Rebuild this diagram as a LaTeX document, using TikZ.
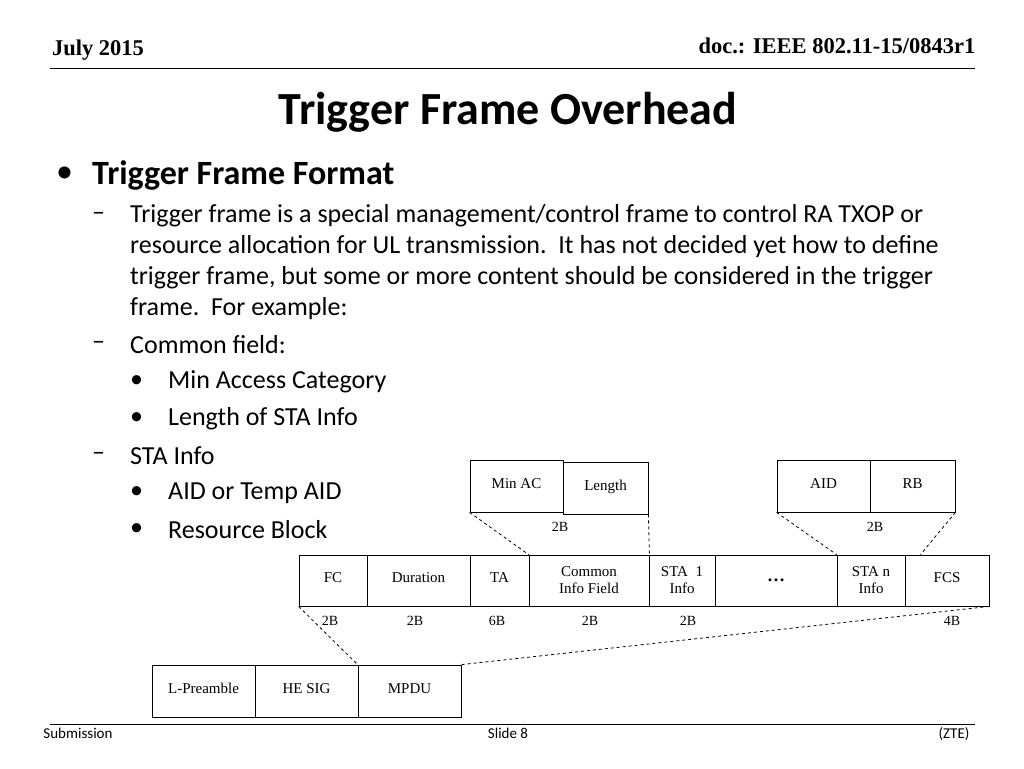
\documentclass[tikz,border=0pt]{standalone}
\usepackage{fontspec}
\setmainfont{Carlito}
\newfontfamily\timesfont{Liberation Serif}
\begin{document}
\begin{tikzpicture}[x=1pt,y=-1pt,
      every node/.style={inner sep=0pt},
      field/.style={draw, thick, font={\timesfont\fontsize{15}{17}\selectfont}, align=center},
      one/.style={text height=0.7em, text depth=0.25em},
      size/.style={font={\timesfont\fontsize{14}{16}\selectfont}},
      body/.style={anchor=west, font={\fontsize{26}{28}\selectfont}},
      guide/.style={dashed, thick}
    ]
    \useasboundingbox (0,0) rectangle (1024,768);
    % header and footer
    \node[font={\timesfont\bfseries\fontsize{22.5}{24}\selectfont}] (date) at (98,50) {July 2015};
    \node[font={\timesfont\bfseries\fontsize{22.5}{24}\selectfont}] (doc) at (837,46) {doc.: IEEE 802.11-15/0843r1};
    \draw[thick] (50,68) -- (975,68);
    \draw (50,724) -- (975,724);
    \node[one, font=\fontsize{15}{17}\selectfont] (sub) at (78,736) {Submission};
    \node[one, font=\fontsize{15}{17}\selectfont] (slide) at (508,736) {Slide 8};
    \node[one, font=\fontsize{15}{17}\selectfont] (zte) at (954,736) {(ZTE)};
    % title and text
    \node[font={\bfseries\fontsize{46}{50}\selectfont}] (title) at (508,112) {Trigger Frame Overhead};
    \node[body, font={\fontsize{34}{36}\selectfont}] (b1) at (56,175) {\textbullet};
    \node[body, font={\bfseries\fontsize{34}{36}\selectfont}] (h1) at (92,175) {Trigger Frame Format};
    \node[body] (d1) at (92,216) {\textendash};
    \node[body] (l1) at (130,216) {Trigger frame is a special management/control frame to control RA TXOP or};
    \node[body] (l2) at (130,247) {resource allocation for UL transmission.\ \ It has not decided yet how to define};
    \node[body] (l3) at (130,278) {trigger frame, but some or more content should be considered in the trigger};
    \node[body] (l4) at (130,309) {frame.\ \ For example:};
    \node[body] (d2) at (92,345) {\textendash};
    \node[body] (l5) at (130,345) {Common field:};
    \node[body] (s1) at (130,382) {\textbullet};
    \node[body] (l6) at (168,382) {Min Access Category};
    \node[body] (s2) at (130,419) {\textbullet};
    \node[body] (l7) at (168,419) {Length of STA Info};
    \node[body] (d3) at (92,456) {\textendash};
    \node[body] (l8) at (130,456) {STA Info};
    \node[body] (s3) at (130,493) {\textbullet};
    \node[body] (l9) at (168,493) {AID or Temp AID};
    \node[body] (s4) at (130,530) {\textbullet};
    \node[body] (l10) at (168,530) {Resource Block};
    % common field
    \node[field, one, minimum width=93, minimum height=52] (minac) at (516.5,486) {Min AC};
    \node[field, one, minimum width=85, minimum height=52] (length) at (605.5,488) {Length};
    % STA info
    \node[field, one, minimum width=93, minimum height=52] (aid) at (823.5,486) {AID};
    \node[field, one, minimum width=85, minimum height=52] (rb) at (912.5,486) {RB};
    % trigger frame
    \node[field, one, minimum width=68, minimum height=51] (fc) at (333,580.5) {FC};
    \node[field, one, minimum width=103, minimum height=51] (dur) at (418.5,580.5) {Duration};
    \node[field, one, minimum width=59, minimum height=51] (ta) at (499.5,580.5) {TA};
    \node[field, minimum width=120, minimum height=51] (common) at (589,580.5) {Common\\Info Field};
    \node[field, minimum width=66, minimum height=51] (sta1) at (682,580.5) {STA\ \ 1\\Info};
    \node[field, minimum width=122, minimum height=51, font={\timesfont\bfseries\fontsize{18}{20}\selectfont}] (dots) at (776,580.5) {\dots};
    \node[field, minimum width=68, minimum height=51] (stan) at (871,580.5) {STA n\\Info};
    \node[field, one, minimum width=84, minimum height=51] (fcs) at (947,580.5) {FCS};
    % PPDU
    \node[field, one, minimum width=103, minimum height=52] (lpre) at (203.5,691) {L-Preamble};
    \node[field, one, minimum width=103, minimum height=52] (hesig) at (306.5,691) {HE SIG};
    \node[field, one, minimum width=103, minimum height=52] (mpdu) at (409.5,691) {MPDU};
    % sizes
    \node[size] (sz1) at (560,527) {2B};
    \node[size] (sz2) at (875,527) {2B};
    \node[size] (sfc) at (330,621) {2B};
    \node[size] (sdur) at (415,621) {2B};
    \node[size] (sta) at (497,621) {6B};
    \node[size] (scom) at (590,621) {2B};
    \node[size] (ssta) at (688,621) {2B};
    \node[size] (sfcs) at (952,621) {4B};
    % dashed guides
    \draw[guide] (minac.south west) -- (common.north west);
    \draw[guide] (length.south east) -- (common.north east);
    \draw[guide] (aid.south west) -- (stan.north west);
    \draw[guide] (rb.south east) -- ([xshift=15]stan.north east);
    \draw[guide] (fc.south west) -- (mpdu.north west);
    \draw[guide] (fcs.south east) -- (mpdu.north east);
\end{tikzpicture}
\end{document}
